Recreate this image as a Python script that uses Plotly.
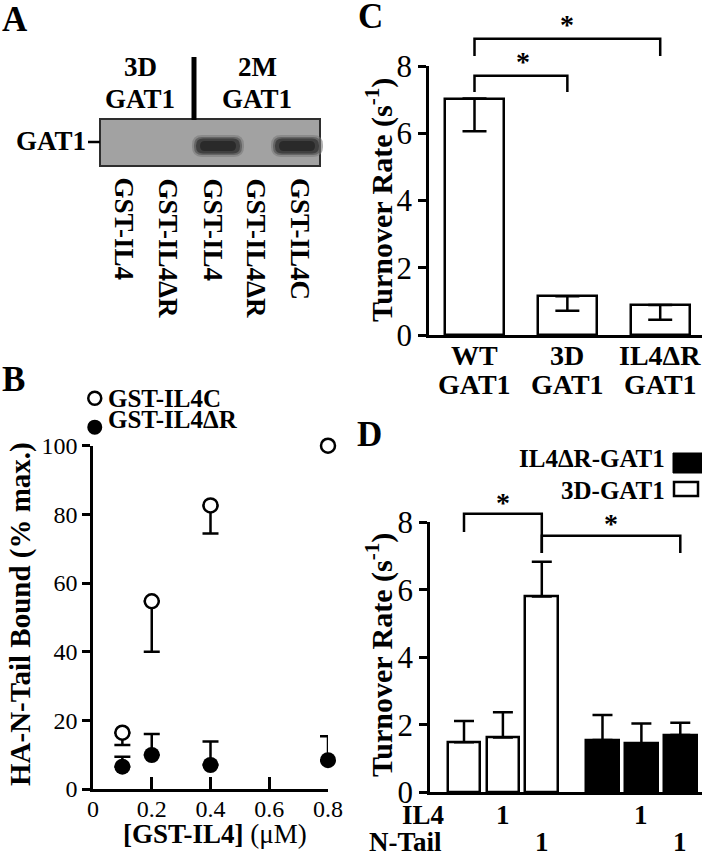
import plotly.graph_objects as go

W, H = 702, 853
FONT = "Liberation Serif"

# ---------------- data ----------------
# Panel A (blot)
lane_labels = ["GST-IL4", "GST-IL4ΔR", "GST-IL4", "GST-IL4ΔR", "GST-IL4C"]
lane_band = [0, 0, 1, 0, 1]
group_labels = ["3D<br>GAT1", "2M<br>GAT1"]

# Panel B
conc = [0.1, 0.2, 0.4, 0.8]
il4c = [16.4, 54.7, 82.6, 100.0]
il4c_err = [3.6, 14.7, 8.2, 0.0]
il4dr = [6.5, 9.9, 7.0, 8.4]
il4dr_err = [2.9, 6.1, 6.8, 7.0]
b_xticks = [0, 0.2, 0.4, 0.6, 0.8]
b_xticktext = ["0", "0.2", "0.4", "0.6", "0.8"]
b_legend = ["GST-IL4C", "GST-IL4ΔR"]

# Panel C
c_cats = ["WT", "3D", "IL4ΔR"]
c_sub = ["GAT1", "GAT1", "GAT1"]
c_vals = [7.03, 1.15, 0.89]
c_err = [0.97, 0.43, 0.44]

# Panel D
d_series = ["3D-GAT1", "IL4ΔR-GAT1"]
d_open_vals = [1.48, 1.62, 5.80]
d_open_err = [0.63, 0.75, 1.03]
d_fill_vals = [1.55, 1.45, 1.70]
d_fill_err = [0.74, 0.59, 0.36]
d_il4 = ["", "1", "", "", "1", ""]
d_ntail = ["", "", "1", "", "", "1"]


def X(px):
    return px / W


def Y(py):
    return 1 - py / H


def to_paper(v, dom, rng):
    return dom[0] + (v - rng[0]) / (rng[1] - rng[0]) * (dom[1] - dom[0])


# axis geometry
B_XDOM, B_XR = [X(93), X(328)], [0, 0.8]
B_YDOM, B_YR = [Y(789), Y(445.7)], [0, 100]
C_XDOM, C_XR = [X(429), 1], [-0.49, 2.45]
C_YDOM, C_YR = [Y(335), Y(66)], [0, 8]
D_XDOM, D_XR = [X(430), 1], [0.126, 7.118]
D_YDOM, D_YR = [Y(792.3), Y(522.3)], [0, 8]

fig = go.Figure()

# ---------------- Panel B ----------------
fig.add_trace(go.Scatter(
    x=conc, y=il4c, mode="markers", xaxis="x", yaxis="y", cliponaxis=False, name=b_legend[0],
    marker=dict(symbol="circle", size=14, color="white", line=dict(color="black", width=2.5)),
    error_y=dict(type="data", symmetric=False, array=[0] * len(il4c), arrayminus=il4c_err,
                 color="black", thickness=2.5, width=8),
    showlegend=False))
fig.add_trace(go.Scatter(
    x=conc, y=il4dr, mode="markers", xaxis="x", yaxis="y", cliponaxis=False, name=b_legend[1],
    marker=dict(symbol="circle", size=16, color="black", line=dict(color="black", width=0)),
    error_y=dict(type="data", symmetric=False, array=il4dr_err, arrayminus=[0] * len(il4dr),
                 color="black", thickness=2.5, width=8),
    showlegend=False))

# ---------------- Panel C ----------------
fig.add_trace(go.Bar(
    x=c_cats, y=c_vals, xaxis="x2", yaxis="y2", width=0.64,
    marker=dict(color="white", line=dict(color="black", width=2.5)),
    error_y=dict(type="data", symmetric=False, array=[0] * len(c_vals), arrayminus=c_err,
                 color="black", thickness=2.5, width=12),
    showlegend=False))

# ---------------- Panel D ----------------
gap = 0.56
d_x_open = [i + 1 for i in range(len(d_open_vals))]
d_x_fill = [len(d_open_vals) + i + 1 + gap for i in range(len(d_fill_vals))]
fig.add_trace(go.Bar(
    x=d_x_open, y=d_open_vals, xaxis="x3", yaxis="y3", width=0.84, name=d_series[0],
    marker=dict(color="white", line=dict(color="black", width=2.5)),
    error_y=dict(type="data", symmetric=False, array=d_open_err, arrayminus=[0] * 3,
                 color="black", thickness=2.5, width=10),
    showlegend=False))
fig.add_trace(go.Bar(
    x=d_x_fill, y=d_fill_vals, xaxis="x3", yaxis="y3", width=0.84, name=d_series[1],
    marker=dict(color="black", line=dict(color="black", width=2.5)),
    error_y=dict(type="data", symmetric=False, array=d_fill_err, arrayminus=[0] * 3,
                 color="black", thickness=2.5, width=10),
    showlegend=False))

axis_common = dict(showline=True, linecolor="black", linewidth=2.5, showgrid=False,
                   zeroline=False, tickcolor="black", tickwidth=2.5, automargin=False,
                   tickfont=dict(family=FONT, size=24, color="black"))
big_ticks = dict(family=FONT, size=31, color="black")

shapes = []
ann = []


def rrect(cx, cy, w, h, r):
    x0, x1, y0, y1 = cx - w / 2, cx + w / 2, cy - h / 2, cy + h / 2
    pts = [("M", x0 + r, y0), ("L", x1 - r, y0), ("Q", x1, y0, x1, y0 + r), ("L", x1, y1 - r),
           ("Q", x1, y1, x1 - r, y1), ("L", x0 + r, y1), ("Q", x0, y1, x0, y1 - r), ("L", x0, y0 + r),
           ("Q", x0, y0, x0 + r, y0)]
    s = ""
    for p in pts:
        if p[0] == "Q":
            s += "Q %f,%f %f,%f " % (X(p[1]), Y(p[2]), X(p[3]), Y(p[4]))
        else:
            s += "%s %f,%f " % (p[0], X(p[1]), Y(p[2]))
    return s + "Z"


# ---- Panel A drawing ----
lane_x = [123, 167, 212, 255, 300]
band_shift = [0, 0, 5, 0, -4]
shapes.append(dict(type="rect", xref="paper", yref="paper", x0=X(100), x1=X(320), y0=Y(166), y1=Y(119),
                   fillcolor="#a2a2a2", line=dict(color="#2e2e2e", width=2)))
for i, b in enumerate(lane_band):
    if b:
        cx = lane_x[i] + band_shift[i]
        for (w, h, r, col, op) in [(52, 22, 10, "#7a7a7a", 0.6), (48, 18, 8, "#555555", 0.7),
                                   (44, 15, 7, "#3a3a3a", 0.85), (36, 10, 5, "#2a2a2a", 1.0)]:
            shapes.append(dict(type="path", xref="paper", yref="paper", path=rrect(cx + 1, 146, w, h, r),
                               fillcolor=col, opacity=op, line=dict(width=0)))
shapes.append(dict(type="line", xref="paper", yref="paper", x0=X(194), x1=X(194), y0=Y(57), y1=Y(120),
                   line=dict(color="black", width=5)))
shapes.append(dict(type="line", xref="paper", yref="paper", x0=X(88), x1=X(100), y0=Y(142), y1=Y(142),
                   line=dict(color="black", width=2.5)))
ann.append(dict(text="<b>GAT1</b>", x=X(88), y=Y(141), xanchor="right", yanchor="middle"))
for gx, gl in zip([140, 257], group_labels):
    top, bottom = gl.split("<br>")
    ann.append(dict(text="<b>%s</b>" % top, x=X(gx), y=Y(67), xanchor="center", yanchor="middle"))
    ann.append(dict(text="<b>%s</b>" % bottom, x=X(gx), y=Y(99), xanchor="center", yanchor="middle"))
for lx, lbl in zip(lane_x, lane_labels):
    ann.append(dict(text="<b>%s</b>" % lbl, x=X(lx), y=Y(176), xanchor="center", yanchor="top",
                    textangle=90, font=dict(family=FONT, size=27, color="black")))

# ---- panel letters ----
for letter, (px, py) in zip("ABCD", [(15, 19), (13, 379), (370, 17), (369, 434)]):
    ann.append(dict(text="<b>%s</b>" % letter, x=X(px), y=Y(py), xanchor="center", yanchor="middle",
                    font=dict(family=FONT, size=35, color="black")))

# ---- Panel B legend & titles ----
bx0 = to_paper(0.006, B_XDOM, B_XR)
for k, (yv, filled) in enumerate([(113.8, False), (105.4, True)]):
    yc = to_paper(yv, B_YDOM, B_YR)
    rad = 7.5 if filled else 6.5
    shapes.append(dict(type="circle", xref="paper", yref="paper",
                       x0=bx0 - rad / W, x1=bx0 + rad / W, y0=yc - rad / H, y1=yc + rad / H,
                       fillcolor="black" if filled else "white",
                       line=dict(color="black", width=0 if filled else 2.5)))
ann.append(dict(text="<b>%s</b>" % b_legend[0], x=X(106), y=Y(398), xanchor="left", yanchor="middle",
                font=dict(family=FONT, size=25, color="black")))
ann.append(dict(text="<b>%s</b>" % b_legend[1], x=X(106), y=Y(420), xanchor="left", yanchor="middle",
                font=dict(family=FONT, size=25, color="black")))
ann.append(dict(text="<b>HA-N-Tail Bound (% max.)</b>", x=X(20), y=Y(614), xanchor="center",
                yanchor="middle", textangle=-90, font=dict(family=FONT, size=29, color="black")))
ann.append(dict(text="<b>[GST-IL4]</b> (μM)", x=X(215), y=Y(834), xanchor="center", yanchor="middle",
                font=dict(family=FONT, size=27, color="black")))

# ---- Panel C texts & brackets ----
ann.append(dict(text="<b>Turnover Rate (s<sup>-1</sup>)</b>", x=X(379), y=Y(200), xanchor="center",
                yanchor="middle", textangle=-90, font=dict(family=FONT, size=30, color="black")))
for i, (c, s) in enumerate(zip(c_cats, c_sub)):
    xp = to_paper(i, C_XDOM, C_XR)
    ann.append(dict(text="<b>%s</b>" % c, x=xp, y=Y(355), xanchor="center", yanchor="middle",
                    font=dict(family=FONT, size=28, color="black")))
    ann.append(dict(text="<b>%s</b>" % s, x=xp, y=Y(384), xanchor="center", yanchor="middle",
                    font=dict(family=FONT, size=28, color="black")))


def bracket(x0, x1, yleg0, yleg1, ytop, xdom, xr, ydom, yr):
    p0, p1 = to_paper(x0, xdom, xr), to_paper(x1, xdom, xr)
    return dict(type="path", xref="paper", yref="paper",
                path="M %f,%f L %f,%f L %f,%f L %f,%f" % (
                    p0, to_paper(yleg0, ydom, yr), p0, to_paper(ytop, ydom, yr),
                    p1, to_paper(ytop, ydom, yr), p1, to_paper(yleg1, ydom, yr)),
                line=dict(color="black", width=2.5))


c_brackets = [(0, 1, 7.23, 8.12, 7.71), (0, 2, 8.30, 9.22, 8.81)]
for (i0, i1, yleg, ystar, ytop) in c_brackets:
    shapes.append(bracket(i0, i1, yleg, yleg, ytop, C_XDOM, C_XR, C_YDOM, C_YR))
    ann.append(dict(text="<b>*</b>", x=to_paper((i0 + i1) / 2 + (0.02 if i1 == 1 else 0), C_XDOM, C_XR),
                    y=to_paper(ystar, C_YDOM, C_YR), xanchor="center", yanchor="middle",
                    font=dict(family=FONT, size=28, color="black")))

# ---- Panel D texts & brackets ----
ann.append(dict(text="<b>Turnover Rate (s<sup>-1</sup>)</b>", x=X(379), y=Y(655), xanchor="center",
                yanchor="middle", textangle=-90, font=dict(family=FONT, size=30, color="black")))
all_dx = d_x_open + d_x_fill
d_brackets = [(all_dx[0], all_dx[2], 7.71, 7.09, 8.25, 8.6), (all_dx[2], all_dx[5], 7.09, 7.09, 7.60, 7.95)]
for (a0, a1, yl0, yl1, ytop, ystar) in d_brackets:
    shapes.append(bracket(a0, a1, yl0, yl1, ytop, D_XDOM, D_XR, D_YDOM, D_YR))
    ann.append(dict(text="<b>*</b>", x=to_paper((a0 + a1) / 2, D_XDOM, D_XR), y=to_paper(ystar, D_YDOM, D_YR),
                    xanchor="center", yanchor="middle", font=dict(family=FONT, size=28, color="black")))
ann.append(dict(text="<b>IL4</b>", x=X(446), y=Y(815), xanchor="right", yanchor="middle",
                font=dict(family=FONT, size=27, color="black")))
ann.append(dict(text="<b>N-Tail</b>", x=X(444), y=Y(842), xanchor="right", yanchor="middle",
                font=dict(family=FONT, size=27, color="black")))
for xv, t in zip(all_dx, d_il4):
    if t:
        ann.append(dict(text="<b>%s</b>" % t, x=to_paper(xv, D_XDOM, D_XR), y=Y(815),
                        xanchor="center", yanchor="middle", font=dict(family=FONT, size=27, color="black")))
for xv, t in zip(all_dx, d_ntail):
    if t:
        ann.append(dict(text="<b>%s</b>" % t, x=to_paper(xv, D_XDOM, D_XR), y=Y(842),
                        xanchor="center", yanchor="middle", font=dict(family=FONT, size=27, color="black")))
# legend D
ann.append(dict(text="<b>%s</b>" % d_series[1], x=X(667), y=Y(459), xanchor="right", yanchor="middle",
                font=dict(family=FONT, size=25, color="black")))
ann.append(dict(text="<b>%s</b>" % d_series[0], x=X(667), y=Y(490), xanchor="right", yanchor="middle",
                font=dict(family=FONT, size=25, color="black")))
shapes.append(dict(type="rect", xref="paper", yref="paper", x0=X(673), x1=X(704), y0=Y(473), y1=Y(453),
                   fillcolor="black", line=dict(color="black", width=1)))
shapes.append(dict(type="rect", xref="paper", yref="paper", x0=X(674), x1=X(698), y0=Y(496), y1=Y(482),
                   fillcolor="white", line=dict(color="black", width=2.5)))

for a in ann:
    a.setdefault("xref", "paper")
    a.setdefault("yref", "paper")
    a.setdefault("showarrow", False)
    a.setdefault("font", dict(family=FONT, size=27, color="black"))

fig.update_layout(
    width=W, height=H, margin=dict(l=0, r=0, t=0, b=0, pad=0),
    paper_bgcolor="white", plot_bgcolor="white",
    font=dict(family=FONT, color="black"),
    bargap=0,
    xaxis=dict(axis_common, domain=B_XDOM, range=B_XR, tickvals=b_xticks,
               ticktext=b_xticktext, ticks="inside", ticklen=12, ticklabelstandoff=-4, anchor="y"),
    yaxis=dict(axis_common, domain=B_YDOM, range=B_YR, tickvals=[0, 20, 40, 60, 80, 100],
               ticks="outside", ticklen=8, anchor="x"),
    xaxis2=dict(axis_common, domain=C_XDOM, range=C_XR, type="category", ticks="",
                showticklabels=False, anchor="y2"),
    yaxis2=dict(axis_common, domain=C_YDOM, range=C_YR, tickvals=[0, 2, 4, 6, 8],
                ticks="outside", ticklen=8, tickfont=big_ticks, anchor="x2"),
    xaxis3=dict(axis_common, domain=D_XDOM, range=D_XR, showticklabels=False, ticks="",
                anchor="y3"),
    yaxis3=dict(axis_common, domain=D_YDOM, range=D_YR, tickvals=[0, 2, 4, 6, 8],
                ticks="outside", ticklen=8, tickfont=big_ticks, anchor="x3"),
    shapes=shapes, annotations=ann,
)

fig.write_html("out.html", config={"displayModeBar": False},
               post_script="document.body.style.margin='0';")
